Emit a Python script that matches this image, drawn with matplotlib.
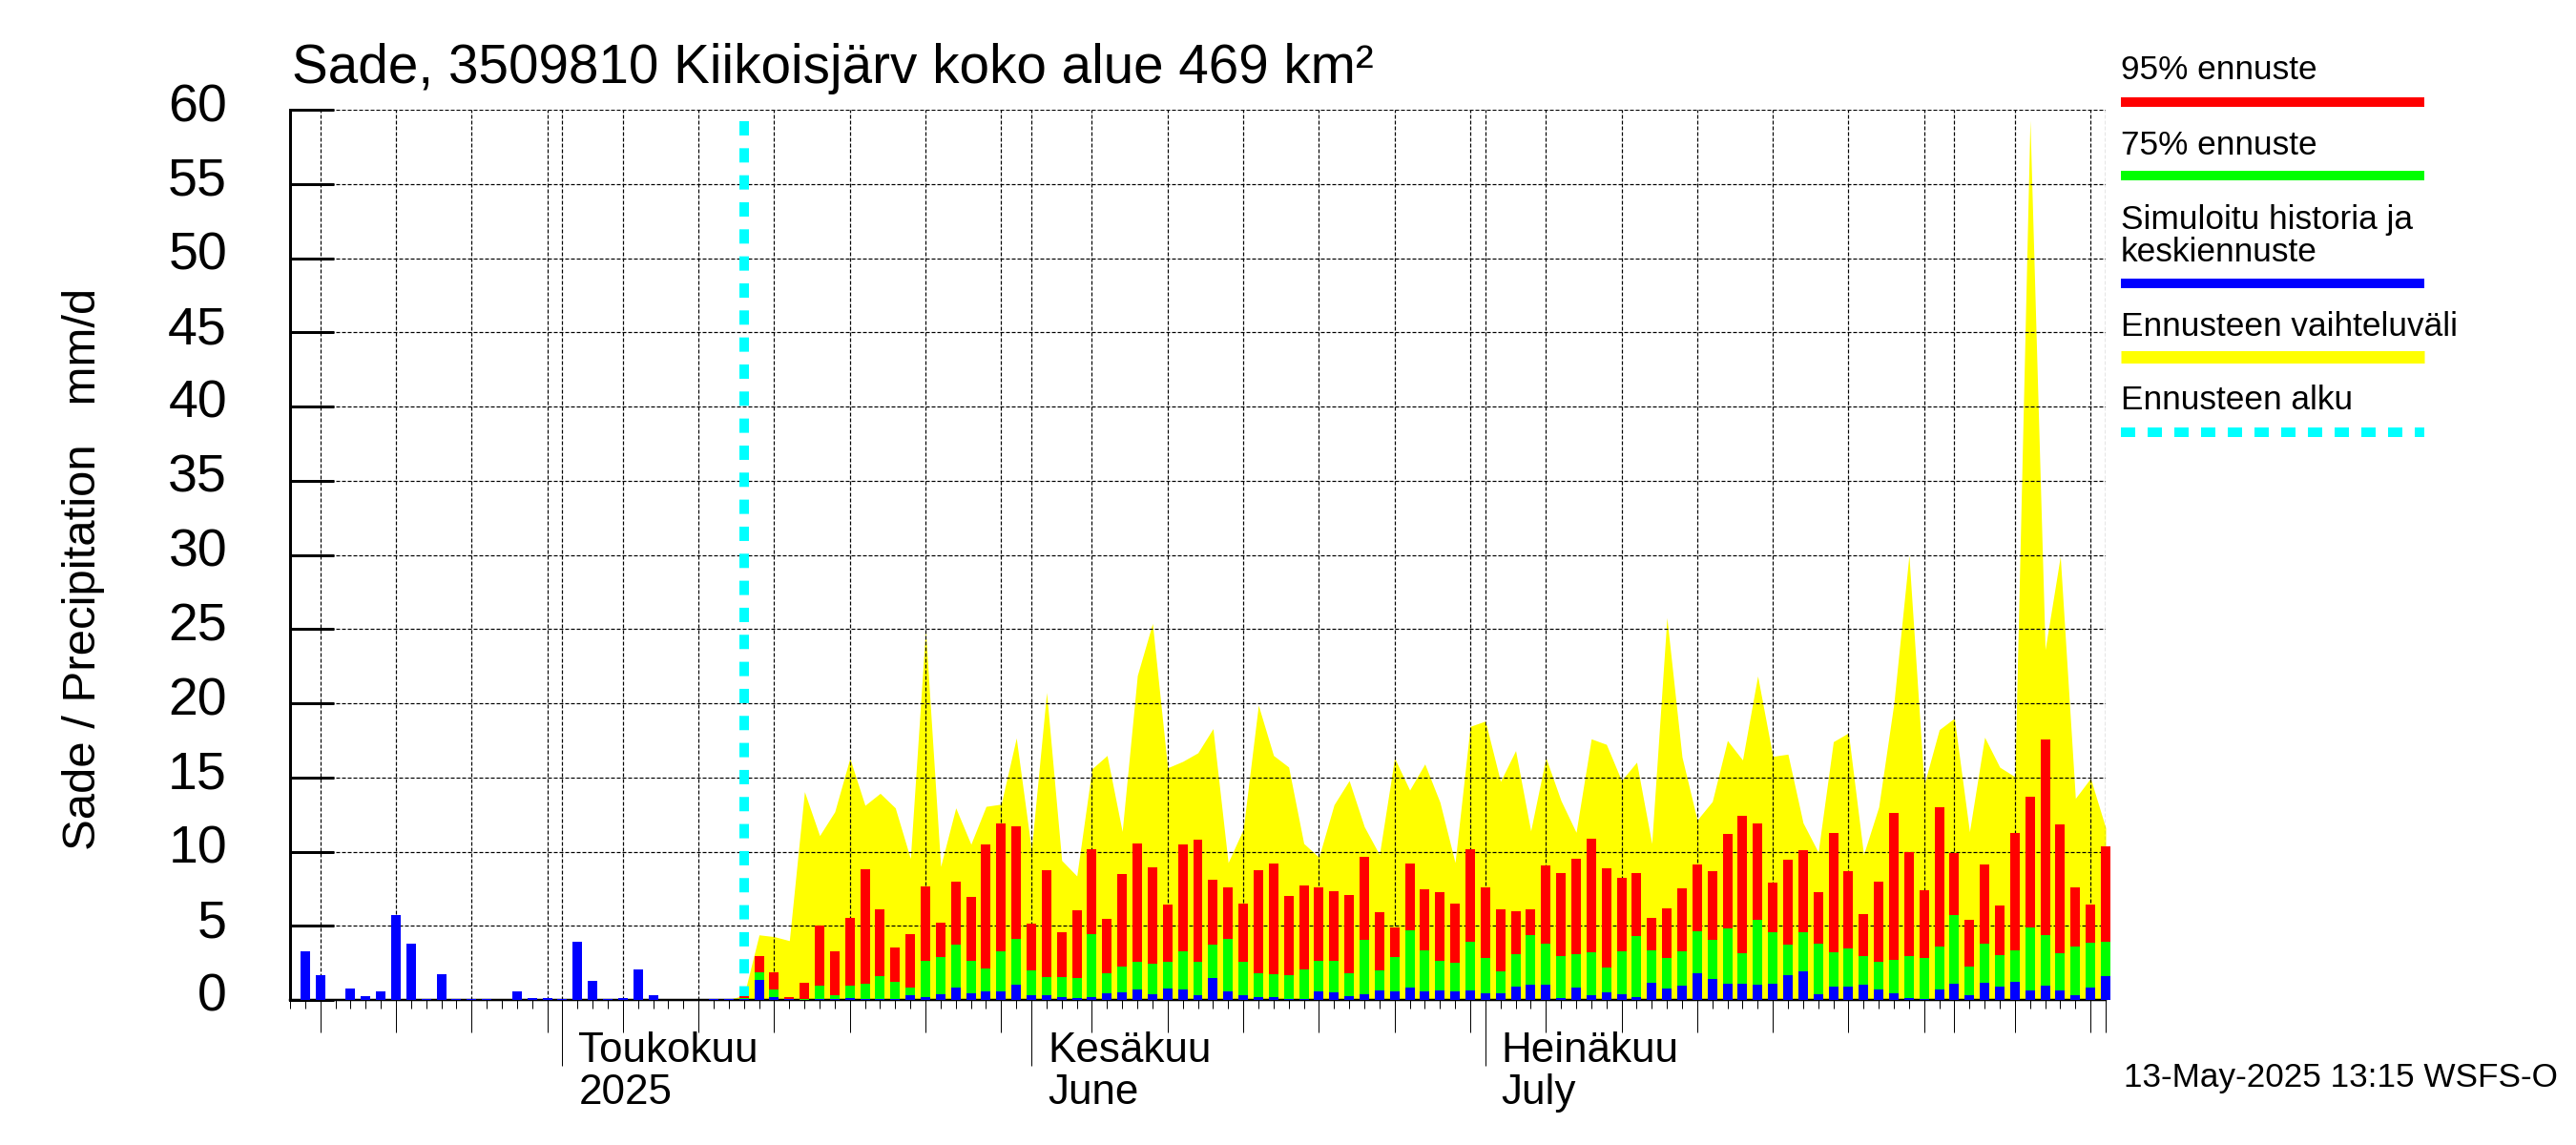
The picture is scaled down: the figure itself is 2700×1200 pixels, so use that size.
import datetime
import matplotlib
matplotlib.use('Agg')
import matplotlib.pyplot as plt
import matplotlib.dates as mdates
from matplotlib.lines import Line2D
from matplotlib.transforms import ScaledTranslation

plt.rcParams['font.family'] = ['Liberation Sans', 'DejaVu Sans']
plt.rcParams['lines.scale_dashes'] = False

W = 2700
H = 1200

start_day = datetime.date(2025, 4, 13)

# simulated history, 13 Apr - 12 May
history = [0, 3.3, 1.7, 0, 0.8, 0.28, 0.6, 5.75, 3.8, 0.05,
           1.76, 0.05, 0.05, 0.05, 0, 0.6, 0.15, 0.1, 0.05, 3.9,
           1.3, 0.05, 0.15, 2.08, 0.34, 0, 0, 0, 0.05, 0.05]

# forecast, 13 May - 11 Aug
p95 = [0.28, 2.98, 1.89, 0.21, 1.18, 5.04, 3.3, 5.55, 8.83, 6.13,
       3.56, 4.46, 7.67, 5.23, 8.0, 6.97, 10.5, 11.92, 11.73, 5.17,
       8.77, 4.59, 6.07, 10.18, 5.49, 8.51, 10.57, 8.96, 6.45, 10.5,
       10.83, 8.12, 7.61, 6.52, 8.77, 9.22, 7.03, 7.74, 7.61, 7.35,
       7.1, 9.67, 5.94, 4.91, 9.22, 7.48, 7.29, 6.52, 10.18, 7.61,
       6.13, 6.0, 6.13, 9.09, 8.57, 9.54, 10.89, 8.9, 8.25, 8.57,
       5.55, 6.2, 7.55, 9.15, 8.7, 11.21, 12.43, 11.92, 7.93, 9.47,
       10.12, 7.29, 11.28, 8.7, 5.81, 8.0, 12.63, 9.99, 7.42, 13.01,
       9.93, 5.42, 9.15, 6.39, 11.28, 13.72, 17.58, 11.85, 7.61, 6.45,
       10.38]
p75 = [0.1, 1.89, 0.73, 0.05, 0.04, 0.99, 0.34, 0.99, 1.11, 1.63,
       1.24, 0.86, 2.66, 2.92, 3.75, 2.66, 2.14, 3.3, 4.14, 2.02,
       1.56, 1.56, 1.5, 4.46, 1.82, 2.27, 2.59, 2.47, 2.59, 3.3,
       2.59, 3.75, 4.14, 2.59, 1.82, 1.76, 1.69, 2.08, 2.66, 2.66,
       1.82, 4.07, 2.02, 2.92, 4.72, 3.37, 2.66, 2.53, 3.94, 2.85,
       1.95, 3.11, 4.39, 3.82, 2.98, 3.11, 3.24, 2.21, 3.3, 4.33,
       3.37, 2.85, 3.3, 4.65, 4.07, 4.84, 3.17, 5.42, 4.59, 3.75,
       4.59, 3.82, 3.24, 3.49, 2.98, 2.59, 2.72, 2.98, 2.85, 3.62,
       5.74, 2.27, 3.82, 3.04, 3.37, 4.91, 4.39, 3.17, 3.62, 3.88,
       3.94]
mean_fc = [0.04, 1.37, 0.21, 0.05, 0, 0.09, 0.04, 0.15, 0.09, 0.04,
           0.04, 0.34, 0.21, 0.41, 0.86, 0.47, 0.6, 0.6, 1.05, 0.34,
           0.34, 0.21, 0.15, 0.21, 0.47, 0.54, 0.73, 0.41, 0.79, 0.73,
           0.34, 1.5, 0.6, 0.34, 0.21, 0.21, 0.09, 0.09, 0.6, 0.54,
           0.28, 0.41, 0.66, 0.6, 0.86, 0.6, 0.66, 0.6, 0.66, 0.47,
           0.47, 0.92, 1.05, 1.05, 0.15, 0.86, 0.34, 0.54, 0.41, 0.21,
           1.18, 0.79, 0.99, 1.82, 1.44, 1.11, 1.11, 1.05, 1.11, 1.69,
           1.95, 0.41, 0.92, 0.92, 1.05, 0.73, 0.47, 0.15, 0.04, 0.73,
           1.11, 0.34, 1.18, 0.92, 1.24, 0.66, 0.99, 0.66, 0.34, 0.86,
           1.63]

# yellow band upper edge, 12 May - 11 Aug
band_top = [0.05, 0.3, 4.39, 4.27, 4.0, 14.04, 11.08, 12.69, 16.29, 13.12,
            13.93, 12.95, 9.54, 24.95, 9.0, 12.95, 10.5, 13.05, 13.2, 17.66,
            10.12, 20.73, 9.41, 8.36, 15.58, 16.48, 11.36, 21.87, 25.38, 15.65,
            16.08, 16.66, 18.29, 9.26, 11.51, 19.87, 16.48, 15.7, 10.55, 9.62,
            13.16, 14.79, 11.68, 9.8, 16.31, 14.15, 15.91, 13.33, 9.26, 18.44,
            18.8, 14.73, 16.81, 11.4, 16.33, 13.44, 11.3, 17.6, 17.23, 14.79,
            16.03, 10.55, 25.77, 16.38, 12.13, 13.38, 17.49, 16.18, 21.84, 16.42,
            16.57, 11.94, 9.97, 17.41, 18.0, 9.8, 13.01, 19.98, 29.97, 14.51,
            18.22, 18.99, 11.34, 17.71, 15.69, 15.05, 59.3, 23.62, 29.9, 13.59,
            14.94, 11.6]

y_ticks = [0, 5, 10, 15, 20, 25, 30, 35, 40, 45, 50, 55, 60]
month_ticks = [(datetime.date(2025, 5, 1), 'Toukokuu\n2025'),
               (datetime.date(2025, 6, 1), 'Kesäkuu\nJune'),
               (datetime.date(2025, 7, 1), 'Heinäkuu\nJuly')]
legend_rows = [('95% ennuste', 83, 107, 'red', 10),
               ('75% ennuste', 162, 184, 'lime', 10),
               ('Simuloitu historia ja\nkeskiennuste', 274, 297, 'blue', 10),
               ('Ennusteen vaihteluväli', 352, 374.5, 'yellow', 13),
               ('Ennusteen alku', 429, 453, 'cyan', 10)]


def day_num(n):
    return mdates.date2num(start_day + datetime.timedelta(days=n))


def pt(px):
    return px * 0.72


def main():
    fig = plt.figure(figsize=(W / 100, H / 100), dpi=100)
    ax = fig.add_axes([304 / W, 1 - 1048 / H, 1903 / W, 933 / H])

    xlim = (day_num(0), day_num(120))
    hist_x = [day_num(i) for i in range(len(history))]
    fc_x = [day_num(i + len(history)) for i in range(len(p95))]
    band_x = [day_num(i + 29) for i in range(len(band_top))]

    ax.fill_between(band_x, 0, band_top, color='yellow', lw=0, antialiased=False, zorder=1)

    bar_w = 10 / 15.86
    ax.bar(hist_x, history, bar_w, color='blue', zorder=3, clip_on=False)
    ax.bar(fc_x, p95, bar_w, color='red', zorder=3, clip_on=False)
    ax.bar(fc_x, p75, bar_w, color='lime', zorder=3, clip_on=False)
    ax.bar(fc_x, mean_fc, bar_w, color='blue', zorder=3, clip_on=False)

    # start of forecast, dashes counted from the top
    ax.plot([day_num(30), day_num(30)], [59.23, 0], color='cyan', lw=pt(10),
            linestyle=(0, (pt(15), pt(13.33))), dash_capstyle='butt', zorder=2)

    ax.set_xlim(xlim)
    ax.set_ylim(0, 60)

    # ticks: every day, every 5th of month + ends, month starts longest
    major = []
    for i in range(121):
        d = start_day + datetime.timedelta(days=i)
        if d.day % 5 == 0 or d.day == 1 or i == 120:
            major.append(day_num(i))
    ax.set_xticks(major)
    ax.set_xticks([day_num(i) for i in range(121)], minor=True)
    ax.set_xticklabels([])
    ax.tick_params(axis='x', which='minor', direction='out', length=pt(9), width=pt(1))
    ax.tick_params(axis='x', which='major', direction='out', length=pt(34), width=pt(1))
    month_nums = [mdates.date2num(d) for d, _ in month_ticks]
    for tick in ax.xaxis.get_major_ticks():
        if tick.get_loc() in month_nums:
            tick.tick1line.set_markersize(pt(69))

    ax.set_yticks(y_ticks)
    ax.tick_params(axis='y', direction='in', length=pt(46), width=pt(3), labelsize=40, pad=pt(66))
    offset = ScaledTranslation(0, 8 / 100, fig.dpi_scale_trans)
    for label in ax.get_yticklabels():
        label.set_transform(label.get_transform() + offset)

    ax.grid(True, which='major', color='black', lw=pt(1.2), linestyle=(0, (pt(4), pt(2))))
    ax.set_axisbelow('line')

    ax.spines['top'].set_visible(False)
    ax.spines['right'].set_visible(False)
    ax.spines['left'].set_linewidth(pt(3))
    ax.spines['bottom'].set_linewidth(pt(2.5))

    for d, text in month_ticks:
        ax.annotate(text, (mdates.date2num(d), 0), xycoords=('data', 'axes fraction'),
                    xytext=(pt(17), -pt(33)), textcoords='offset points',
                    ha='left', va='top', fontsize=31.7, linespacing=1.09)

    fig.text(306 / W, 1 - 87 / H, 'Sade, 3509810 Kiikoisjärv koko alue 469 km²',
             fontsize=40.8, ha='left', va='baseline')
    fig.text(88 / W, 1 - 596 / H, 'Sade / Precipitation   mm/d', fontsize=35.4,
             rotation=90, ha='center', va='center')
    fig.text(2226 / W, 1 - 1139 / H, '13-May-2025 13:15 WSFS-O', fontsize=25.3,
             ha='left', va='baseline')

    # legend on the right
    for text, base_y, line_y, color, width in legend_rows:
        fig.text(2223 / W, 1 - base_y / H, text, fontsize=25.4, ha='left', va='baseline',
                 linespacing=1.04)
        style = (0, (pt(15), pt(13))) if color == 'cyan' else '-'
        fig.add_artist(Line2D([2223 / W, 2541 / W], [1 - line_y / H, 1 - line_y / H],
                              color=color, lw=pt(width), linestyle=style,
                              solid_capstyle='butt', dash_capstyle='butt'))

    fig.savefig('out.png', dpi=100)


if __name__ == '__main__':
    main()
